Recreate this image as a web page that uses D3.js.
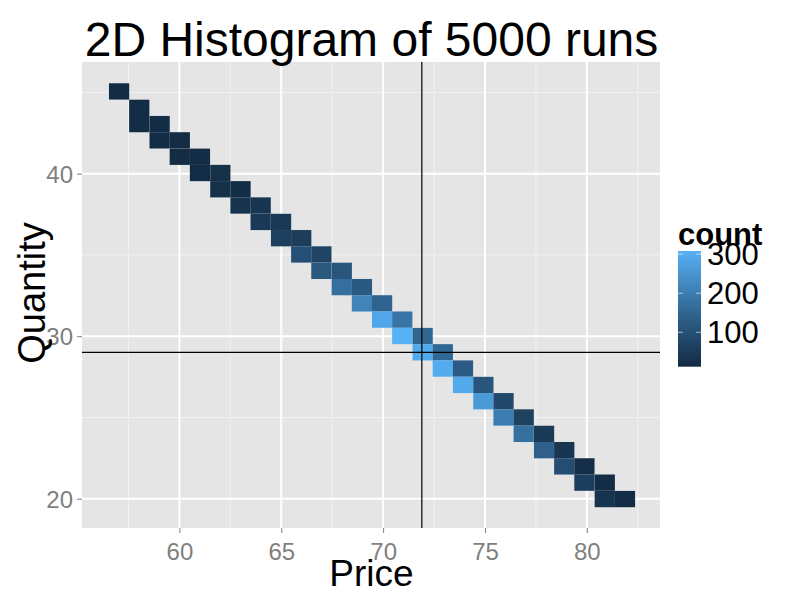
<!DOCTYPE html>
<html>
<head>
<meta charset="utf-8">
<script src="https://cdn.jsdelivr.net/npm/d3@7/dist/d3.min.js"></script>
<style>
body{margin:0;background:#fff}
svg{display:block;font-family:"Liberation Sans",Arial,sans-serif}
</style>
</head>
<body>
<svg></svg>
<script>
// tile centres (bin mid points) and counts
var price = [57.04, 58.03,58.03, 59.03,59.03, 60.02,60.02, 61.01,61.01, 62.01,62.01,
  63.00,63.00, 63.99,63.99, 64.99,64.99, 65.98,65.98, 66.97,66.97, 67.97,67.97,
  68.96,68.96, 69.95,69.95, 70.94,70.94, 71.94,71.94, 72.93,72.93, 73.92,73.92,
  74.92,74.92, 75.91,75.91, 76.90,76.90, 77.90,77.90, 78.89,78.89, 79.88,79.88,
  80.88,80.88, 81.87]
var quantity = [45.06, 44.05,43.05, 43.05,42.05, 42.05,41.04, 41.04,40.04, 40.04,39.04,
  39.04,38.04, 38.04,37.03, 37.03,36.03, 36.03,35.03, 35.03,34.02, 34.02,33.02,
  33.02,32.02, 32.02,31.02, 31.02,30.01, 30.01,29.01, 29.01,28.01, 28.01,27.00,
  27.00,26.00, 26.00,25.00, 25.00,23.99, 23.99,22.99, 22.99,21.99, 21.99,20.99,
  20.99,19.98, 19.98]
var count = [12, 17,17, 18,18, 16,16, 18,18, 24,24, 17,34, 39,47, 47,60, 56,99,
  73,119, 114,171, 123,215, 145,285, 179,308, 148,291, 153,297, 127,291,
  112,261, 86,198, 65,172, 47,138, 39,95, 19,58, 17,34, 15]
var binW = 0.9932, binH = 1.0029
var xTicks = [60, 65, 70, 75, 80]
var yTicks = [20, 30, 40]
var legendTicks = [100, 200, 300]
var vLine = 71.9, hLine = 29

var screen = {width:800, height:600}
var panel = {left:82, right:660, top:62, bottom:528}

var svg = d3.select("svg")
  .attr("width", screen.width)
  .attr("height", screen.height)

var xScale = d3.scaleLinear().domain([55.22, 83.59]).range([panel.left, panel.right])
var yScale = d3.scaleLinear().domain([18.2, 46.87]).range([panel.bottom, panel.top])
var colour = d3.scaleLinear()
  .domain(d3.extent(count))
  .range(["#132B43", "#56B1F7"])
  .interpolate(d3.interpolateLab)

var tiles = price.map(function(p, i){ return {x:p, y:quantity[i], n:count[i]} })

// panel background + grid
svg.append("rect")
  .attr("x", panel.left).attr("y", panel.top)
  .attr("width", panel.right - panel.left)
  .attr("height", panel.bottom - panel.top)
  .attr("fill", "#E5E5E5")

var xMinor = [57.5, 62.5, 67.5, 72.5, 77.5, 82.5]
var yMinor = [25, 35, 45]
svg.append("g").selectAll("line").data(xMinor).enter().append("line")
  .attr("x1", function(d){return xScale(d)}).attr("x2", function(d){return xScale(d)})
  .attr("y1", panel.top).attr("y2", panel.bottom)
  .attr("stroke", "#F2F2F2").attr("stroke-width", 1)
svg.append("g").selectAll("line").data(yMinor).enter().append("line")
  .attr("y1", function(d){return yScale(d)}).attr("y2", function(d){return yScale(d)})
  .attr("x1", panel.left).attr("x2", panel.right)
  .attr("stroke", "#F2F2F2").attr("stroke-width", 1)
svg.append("g").selectAll("line").data(xTicks).enter().append("line")
  .attr("x1", function(d){return xScale(d)}).attr("x2", function(d){return xScale(d)})
  .attr("y1", panel.top).attr("y2", panel.bottom)
  .attr("stroke", "#fff").attr("stroke-width", 2)
svg.append("g").selectAll("line").data(yTicks).enter().append("line")
  .attr("y1", function(d){return yScale(d)}).attr("y2", function(d){return yScale(d)})
  .attr("x1", panel.left).attr("x2", panel.right)
  .attr("stroke", "#fff").attr("stroke-width", 2)

// tiles
svg.append("g").selectAll("rect").data(tiles).enter().append("rect")
  .attr("x", function(d){return xScale(d.x - binW/2)})
  .attr("y", function(d){return yScale(d.y + binH/2)})
  .attr("width", function(d){return xScale(d.x + binW/2) - xScale(d.x - binW/2)})
  .attr("height", function(d){return yScale(d.y - binH/2) - yScale(d.y + binH/2)})
  .attr("fill", function(d){return colour(d.n)})

// reference lines
svg.append("line")
  .attr("x1", xScale(vLine)).attr("x2", xScale(vLine))
  .attr("y1", panel.top).attr("y2", panel.bottom)
  .attr("stroke", "#000").attr("stroke-width", 1.2)
svg.append("line")
  .attr("y1", yScale(hLine)).attr("y2", yScale(hLine))
  .attr("x1", panel.left).attr("x2", panel.right)
  .attr("stroke", "#000").attr("stroke-width", 1.2)

// axes
var xAxis = svg.append("g")
  .attr("transform", "translate(0," + panel.bottom + ")")
  .call(d3.axisBottom(xScale).tickValues(xTicks).tickSize(5).tickPadding(4))
var yAxis = svg.append("g")
  .attr("transform", "translate(" + panel.left + ",0)")
  .call(d3.axisLeft(yScale).tickValues(yTicks).tickSize(5).tickPadding(4))
xAxis.select(".domain").remove()
yAxis.select(".domain").remove()
svg.selectAll(".tick line").attr("stroke", "#7F7F7F")
svg.selectAll(".tick text")
  .attr("fill", "#7F7F7F")
  .style("font-size", "24px")
  .style("font-family", "Liberation Sans, Arial, sans-serif")
xAxis.selectAll(".tick text").attr("dy", "0.95em")
yAxis.selectAll(".tick text").attr("dy", "0.36em")

// titles
svg.append("text")
  .attr("x", 371.5).attr("y", 56)
  .attr("text-anchor", "middle")
  .style("font-size", "48px")
  .text("2D Histogram of 5000 runs")
svg.append("text")
  .attr("x", 371.5).attr("y", 586)
  .attr("text-anchor", "middle")
  .style("font-size", "37px")
  .text("Price")
svg.append("text")
  .attr("transform", "translate(45,293) rotate(-90)")
  .attr("text-anchor", "middle")
  .style("font-size", "38px")
  .text("Quantity")

// legend colour bar
var lg = {x:678, w:23, top:251, bottom:366.7}
var lScale = d3.scaleLinear().domain(colour.domain()).range([lg.bottom, lg.top])
var grad = svg.append("defs").append("linearGradient")
  .attr("id", "bar").attr("x1", 0).attr("x2", 0).attr("y1", 1).attr("y2", 0)
grad.selectAll("stop").data(d3.range(0, 1.001, 0.1)).enter().append("stop")
  .attr("offset", function(d){return d})
  .attr("stop-color", function(d){
    var dom = colour.domain()
    return colour(dom[0] + d*(dom[1]-dom[0]))
  })
svg.append("rect")
  .attr("x", lg.x).attr("y", lg.top)
  .attr("width", lg.w).attr("height", lg.bottom - lg.top)
  .attr("fill", "url(#bar)")
var lt = svg.append("g").selectAll("g").data(legendTicks).enter().append("g")
lt.append("line")
  .attr("x1", lg.x).attr("x2", lg.x + 5)
  .attr("y1", function(d){return lScale(d)}).attr("y2", function(d){return lScale(d)})
  .attr("stroke", "#fff").attr("stroke-opacity", 0.6)
lt.append("line")
  .attr("x1", lg.x + lg.w - 5).attr("x2", lg.x + lg.w)
  .attr("y1", function(d){return lScale(d)}).attr("y2", function(d){return lScale(d)})
  .attr("stroke", "#fff").attr("stroke-opacity", 0.6)
lt.append("text")
  .attr("x", 707).attr("y", function(d){return lScale(d)})
  .attr("dy", "0.36em")
  .style("font-size", "31px")
  .text(function(d){return d})
svg.append("text")
  .attr("x", 678).attr("y", 245)
  .style("font-size", "31px")
  .style("font-weight", "bold")
  .text("count")
</script>
</body>
</html>
